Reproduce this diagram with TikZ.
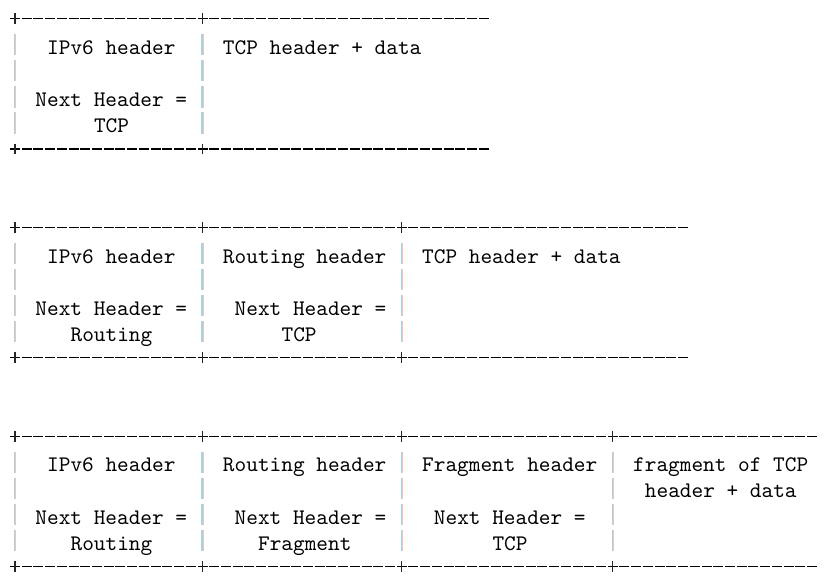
\documentclass[tikz,border=0pt]{standalone}
\usepackage{xcolor}
\usepackage{tikz}

\definecolor{barblue}{RGB}{158,212,240}
\definecolor{barpeach}{RGB}{246,196,168}

\begin{document}
\begin{tikzpicture}[
        x=5.274pt, y=-11.745pt,
        hdrtext/.style={anchor=base west, inner sep=0pt, xshift=1.1pt, font=\fontsize{10}{12}\ttfamily},
        rule/.style={line width=0.5pt, dash pattern=on 4.5pt off 0.774pt, dash phase=4.887pt},
        cross/.style={line width=0.5pt, black!85},
        leftbar/.style={line width=0.5pt, draw=barblue},
        rightbar/.style={line width=0.5pt, draw=barpeach}
    ]
    \useasboundingbox (-1.28,-0.709) rectangle (70.22,21.51);

    % Packet 1: IPv6 + TCP
    \node[hdrtext] (ipa) at (2.5,1.37) {IPv6 header};
    \node[hdrtext] (tcpa) at (17.5,1.37) {TCP header + data};
    \node[hdrtext] (nha) at (1.5,3.37) {Next Header =};
    \node[hdrtext] (nva) at (6.5,4.37) {TCP};

    % Packet 2: IPv6 + Routing + TCP
    \node[hdrtext] (ipb) at (2.5,9.37) {IPv6 header};
    \node[hdrtext] (rtb) at (17.5,9.37) {Routing header};
    \node[hdrtext] (tcpb) at (34.5,9.37) {TCP header + data};
    \node[hdrtext] (nhb1) at (1.5,11.37) {Next Header =};
    \node[hdrtext] (nhb2) at (18.5,11.37) {Next Header =};
    \node[hdrtext] (nvb1) at (4.5,12.37) {Routing};
    \node[hdrtext] (nvb2) at (22.5,12.37) {TCP};

    % Packet 3: IPv6 + Routing + Fragment + TCP
    \node[hdrtext] (ipc) at (2.5,17.37) {IPv6 header};
    \node[hdrtext] (rtc) at (17.5,17.37) {Routing header};
    \node[hdrtext] (frc) at (34.5,17.37) {Fragment header};
    \node[hdrtext] (tcpc) at (52.5,17.37) {fragment of TCP};
    \node[hdrtext] (tcpc2) at (53.5,18.37) {header + data};
    \node[hdrtext] (nhc1) at (1.5,19.37) {Next Header =};
    \node[hdrtext] (nhc2) at (18.5,19.37) {Next Header =};
    \node[hdrtext] (nhc3) at (35.5,19.37) {Next Header =};
    \node[hdrtext] (nvc1) at (4.5,20.37) {Routing};
    \node[hdrtext] (nvc2) at (20.5,20.37) {Fragment};
    \node[hdrtext] (nvc3) at (40.5,20.37) {TCP};

    % Top and bottom rules
    \foreach \l/\e in {0/40,5/40,8/57,13/57,16/68,21/68} {
        \draw[rule] (-0.5,\l) -- (\e+0.5,\l);
    }

    % Corners (+)
    \foreach \l/\cols in {0/{0,16},5/{0,16},8/{0,16,33},13/{0,16,33},16/{0,16,33,51},21/{0,16,33,51}} {
        \foreach \c in \cols {
            \draw[cross] (\c,\l-0.21) -- (\c,\l+0.21);
        }
    }

    % Cell separators (|)
    \foreach \a/\cols in {1/{0,16},9/{0,16,33},17/{0,16,33,51}} {
        \foreach \c in \cols {
            \foreach \l in {0,...,3} {
                \draw[leftbar, xshift=-0.25pt] (\c,\a+\l-0.41) -- (\c,\a+\l+0.41);
                \draw[rightbar, xshift=0.25pt] (\c,\a+\l-0.41) -- (\c,\a+\l+0.41);
            }
        }
    }

\end{tikzpicture}
\end{document}
